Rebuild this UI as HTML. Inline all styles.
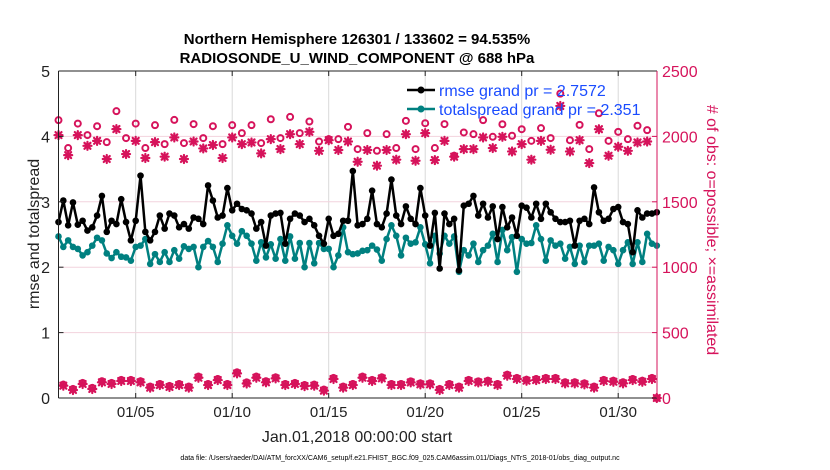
<!DOCTYPE html>
<html><head><meta charset="utf-8"><style>
html,body{margin:0;padding:0;background:#fff;}
svg{display:block;font-family:"Liberation Sans",Arial,sans-serif;}
</style></head><body>
<svg id="chart" width="830" height="470" viewBox="0 0 830 470" xmlns="http://www.w3.org/2000/svg">
<text x="357" y="44" text-anchor="middle" font-size="15" font-weight="bold">Northern Hemisphere 126301 / 133602 = 94.535%</text>
<text x="357" y="63" text-anchor="middle" font-size="15" font-weight="bold">RADIOSONDE_U_WIND_COMPONENT @ 688 hPa</text>
<g id="grid"></g>
<g id="marks"></g>
<g id="axes"></g>
<g>
 <line x1="407" y1="90" x2="435" y2="90" stroke="#000" stroke-width="2.5"/><circle cx="421" cy="90" r="3.5" fill="#000"/>
 <text x="439" y="96" font-size="16" fill="#1a4cff">rmse grand pr = 2.7572</text>
 <line x1="407" y1="109" x2="435" y2="109" stroke="#008080" stroke-width="2.5"/><circle cx="421" cy="109" r="3.5" fill="#008080"/>
 <text x="439" y="115" font-size="16" fill="#1a4cff">totalspread grand pr = 2.351</text>
</g>
<text transform="translate(39,234) rotate(-90)" text-anchor="middle" font-size="16" fill="#222">rmse and totalspread</text>
<text transform="translate(707,230) rotate(90)" text-anchor="middle" font-size="16" fill="#d6135b"># of obs: o=possible; ×=assimilated</text>
<text x="357" y="442" text-anchor="middle" font-size="16" fill="#222">Jan.01,2018 00:00:00 start</text>
<text x="400" y="460" text-anchor="middle" font-size="7" fill="#000">data file: /Users/raeder/DAI/ATM_forcXX/CAM6_setup/f.e21.FHIST_BGC.f09_025.CAM6assim.011/Diags_NTrS_2018-01/obs_diag_output.nc</text>
</svg>
<script>
const rmse=[2.69,3.02,2.64,2.99,2.65,2.71,2.56,2.61,2.79,3.09,2.54,2.71,2.66,3.04,2.69,2.41,2.71,3.40,2.54,2.41,2.54,2.79,2.59,2.82,2.79,2.61,2.66,2.59,2.76,2.74,2.66,3.25,3.02,2.76,2.79,3.21,2.87,2.97,2.89,2.87,2.82,2.59,2.69,
2.33,2.79,2.82,2.83,2.36,2.74,2.82,2.79,2.69,2.74,2.64,2.48,2.36,2.74,2.48,2.51,2.71,2.71,3.47,2.64,2.66,2.74,3.17,2.66,2.61,2.82,3.34,2.79,2.66,2.93,2.74,2.66,3.21,2.79,2.33,2.83,1.98,2.82,2.66,
2.74,1.95,2.94,2.97,3.09,2.79,2.97,2.76,2.93,2.43,2.92,2.61,2.76,2.48,2.94,2.91,2.76,2.97,2.74,2.97,2.84,2.74,2.69,2.69,2.71,2.33,2.71,2.74,2.66,3.22,2.84,2.71,2.74,2.89,2.92,2.69,2.66,2.23,2.87,2.76,2.82,2.82,2.84];
const spread=[2.47,2.31,2.41,2.31,2.28,2.18,2.23,2.33,2.45,2.41,2.21,2.14,2.23,2.16,2.15,2.10,2.31,2.33,2.43,2.05,2.20,2.08,2.23,2.08,2.26,2.13,2.32,2.28,2.31,2.00,2.31,2.40,2.31,2.08,2.36,2.64,2.48,2.36,2.55,2.48,2.36,2.10,2.38,
2.15,2.35,2.13,2.43,2.10,2.47,2.13,2.37,2.00,2.37,2.06,2.37,2.28,2.28,2.00,2.18,2.61,2.23,2.20,2.21,2.25,2.26,2.33,2.27,2.10,2.43,2.64,2.48,2.18,2.45,2.36,2.38,2.61,2.35,2.06,2.48,2.21,2.48,2.36,
2.47,1.93,2.26,2.18,2.36,2.08,2.26,2.33,2.51,2.08,2.57,2.26,2.46,1.93,2.43,2.36,2.37,2.64,2.43,2.10,2.41,2.33,2.36,2.13,2.31,2.05,2.33,2.08,2.33,2.33,2.36,2.10,2.31,2.26,2.05,2.26,2.38,2.05,2.38,2.08,2.51,2.36,2.33];
const possHigh=[2124,1911,2098,2010,2078,1956,2193,1987,2098,1911,2086,1941,2126,1949,2094,1987,2078,1941,2086,2025,2086,1949,
2131,1987,2149,2025,2114,1961,1979,1979,2073,1903,2025,1890,2017,1911,2119,1903,2101,1911,2094,1852,
2030,2017,2124,1997,2093,2005,2055,1966,2063,1987,2327,1971,2088,1903,2177,1966,2035,1979,2081,2048,0];
const assimHigh=[2010,1857,2010,1928,1966,1827,2056,1865,1966,1835,1956,1845,1992,1827,1961,1908,1934,1835,1992,1941,1954,1870,
1979,1903,2017,1941,2035,1890,1971,1896,1961,1806,1896,1776,1896,1822,2017,1814,2025,1819,1966,1845,
1903,1903,1992,1911,1997,1885,1941,1822,1966,1898,2233,1885,1971,1796,2055,1852,1921,1890,1954,1961,0];
const obsLow=[94,61,107,69,120,107,130,130,120,79,99,84,99,79,155,99,137,99,188,111,155,120,150,99,107,91,94,56,145,79,99,
155,130,150,99,99,119,104,104,61,99,79,130,119,124,99,170,145,132,137,145,145,112,112,104,79,130,124,112,137,124,145];
const dateTicks=[5,10,15,20,25,30];
const leftTicks=[0,1,2,3,4,5];
const rightTicks=[0,500,1000,1500,2000,2500];

const NS='http://www.w3.org/2000/svg';
const L=58.5,R=657,T=71,B=398;
const DAYPX=19.3;
const xT=t=>L+t*DAYPX;
const yL=v=>B-(v-0)/(5-0)*(B-T);
const yR=c=>B-(c-0)/(2500-0)*(B-T);
const RED='#d6135b';
function mk(tag,attrs,parent){const e=document.createElementNS(NS,tag);for(const k in attrs)e.setAttribute(k,attrs[k]);parent.appendChild(e);return e;}
const grid=document.getElementById('grid'),marks=document.getElementById('marks'),axes=document.getElementById('axes');

dateTicks.forEach(d=>{const x=xT(d-1);
 const g=mk('line',{x1:x,y1:T,x2:x,y2:B,stroke:'#d9d9d9','stroke-width':1},grid);
 
 
 mk('line',{x1:x,y1:B,x2:x,y2:B-5,stroke:'#222','stroke-width':1},axes);
 mk('line',{x1:x,y1:T,x2:x,y2:T+5,stroke:'#222','stroke-width':1},axes);
 const t=mk('text',{x:x,y:417,'text-anchor':'middle','font-size':15,fill:'#222'},axes);
 t.textContent=(d<10?'01/0':'01/')+d;
 
 
});
rightTicks.forEach(c=>{const y=yR(c);
 if(c>0&&c<2500){const g=mk('line',{x1:L,y1:y,x2:R,y2:y,stroke:'#f2d3dd','stroke-width':1},grid);
 
 }
 mk('line',{x1:R,y1:y,x2:R-5,y2:y,stroke:RED,'stroke-width':1},axes);
 const t=mk('text',{x:662,y:y+6,'font-size':16,fill:RED},axes);
 t.textContent=c;
 
 
});
leftTicks.forEach(v=>{const y=yL(v);
 mk('line',{x1:L,y1:y,x2:L+5,y2:y,stroke:'#222','stroke-width':1},axes);
 const t=mk('text',{x:50,y:y+6,'text-anchor':'end','font-size':16,fill:'#222'},axes);
 t.textContent=v;
 
 
});
mk('line',{x1:L,y1:T,x2:R,y2:T,stroke:'#222','stroke-width':1},axes);
mk('line',{x1:L,y1:B,x2:R,y2:B,stroke:'#222','stroke-width':1},axes);
mk('line',{x1:L,y1:T,x2:L,y2:B,stroke:'#222','stroke-width':1},axes);
mk('line',{x1:R,y1:T,x2:R,y2:B,stroke:RED,'stroke-width':1},axes);

function star(x,y,parent){
 const g=mk('g',{stroke:RED,'stroke-width':2.2,'stroke-linecap':'round'},parent);
 
 
 const r=4;
 mk('line',{x1:x-r,y1:y,x2:x+r,y2:y},g);mk('line',{x1:x,y1:y-r,x2:x,y2:y+r},g);
 mk('line',{x1:x-3,y1:y-3,x2:x+3,y2:y+3},g);mk('line',{x1:x-3,y1:y+3,x2:x+3,y2:y-3},g);
}
function ring(x,y,parent){
 const c=mk('circle',{cx:x,cy:y,r:3,fill:'none',stroke:RED,'stroke-width':2},parent);
 
 
}
possHigh.forEach((c,k)=>{ring(xT(k*0.5),yR(c),marks);});
assimHigh.forEach((c,k)=>{star(xT(k*0.5),yR(c),marks);});
obsLow.forEach((c,k)=>{const x=xT(k*0.5+0.25);ring(x,yR(c+8),marks);star(x,yR(c),marks);});

function series(arr,color,name){
 const pts=arr.map((v,i)=>xT(i*0.25).toFixed(2)+','+yL(v).toFixed(2)).join(' ');
 const pl=mk('polyline',{points:pts,fill:'none',stroke:color,'stroke-width':2.5,'stroke-linejoin':'round'},marks);
 
 
 arr.forEach((v,i)=>{const c=mk('circle',{cx:xT(i*0.25),cy:yL(v),r:3.3,fill:color},marks);
  
  });
}
series(spread,'#008080','totalspread');
series(rmse,'#000000','rmse');
</script>
</body></html>
